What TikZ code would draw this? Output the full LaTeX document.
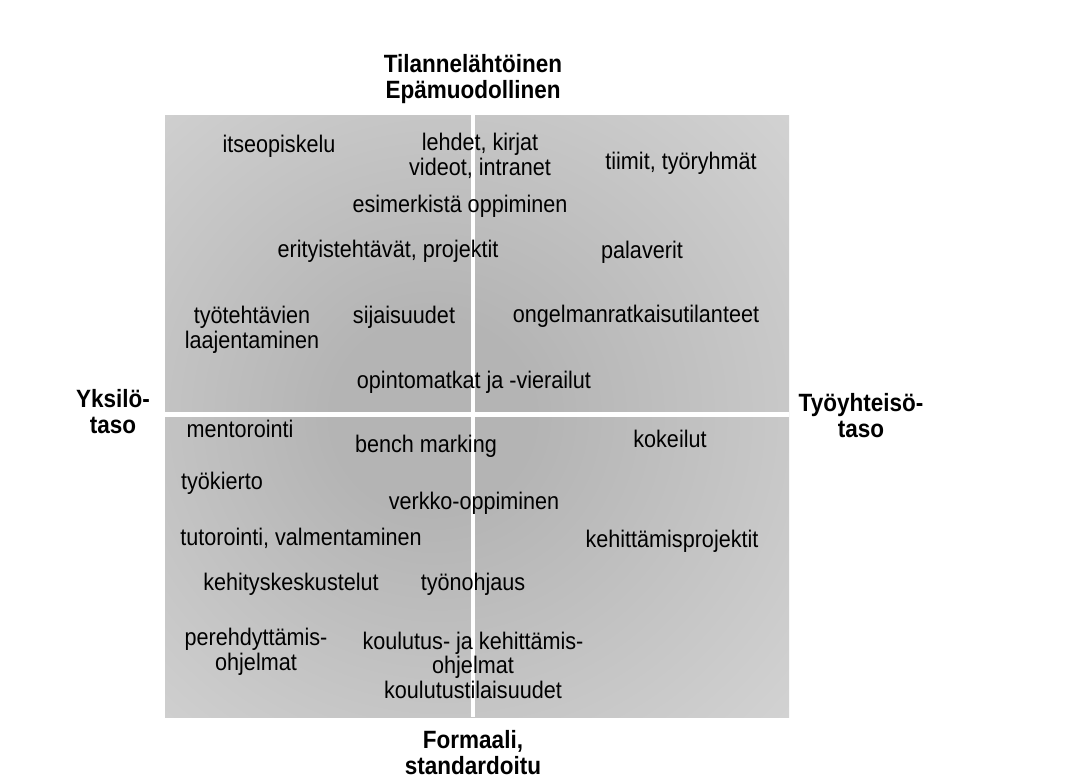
\documentclass[tikz,border=0pt]{standalone}
\usepackage{fontspec}
\setmainfont{Liberation Sans}[FakeStretch=0.9]
\definecolor{panelin}{RGB}{180,180,180}
\definecolor{panelout}{RGB}{226,226,226}
\pgfdeclareradialshading{panelshade}{\pgfpoint{-4bp}{0bp}}{%
  color(0bp)=(panelin); color(8bp)=(panelin); color(52bp)=(panelout); color(75bp)=(panelout)}
\tikzset{
  item/.style={anchor=base, align=center, inner sep=0pt, font=\fontsize{24}{24.5}\selectfont},
  axislabel/.style={anchor=base, align=center, inner sep=0pt, font=\fontsize{25}{25.5}\selectfont\bfseries},
  divider/.style={draw=white, line width=5pt}
}
\begin{document}
\begin{tikzpicture}[x=1pt, y=-1pt]
  \useasboundingbox (0,0) rectangle (1079,782);
  \fill[white] (0,0) rectangle (1079,782);

  % shaded panel
  \coordinate (tl) at (165,115);
  \coordinate (br) at (789,717);
  \shade[shading=panelshade] (tl) rectangle (br);

  % quadrant dividers
  \coordinate (vtop) at (473,115);
  \coordinate (vbot) at (473,717);
  \coordinate (hleft) at (165,414);
  \coordinate (hright) at (789,414);
  \draw[divider, line width=4pt] (vtop) -- (vbot);
  \draw[divider] (hleft) -- (hright);

  % axis labels (multi-line nodes sit on the baseline of their last line)
  \node[axislabel] (top) at (473,98) {Tilannelähtöinen\\Epämuodollinen};
  \node[axislabel] (bottom) at (473,774) {Formaali,\\standardoitu};
  \node[axislabel] (left) at (113,433) {Yksilö-\\taso};
  \node[axislabel] (right) at (861,437) {Työyhteisö-\\taso};

  % upper half
  \node[item] (n1) at (279,152) {itseopiskelu};
  \node[item] (n2) at (480,175) {lehdet, kirjat\\videot, intranet};
  \node[item] (n3) at (681,169) {tiimit, työryhmät};
  \node[item] (n4) at (460,212) {esimerkistä oppiminen};
  \node[item] (n5) at (388,257) {erityistehtävät, projektit};
  \node[item] (n6) at (642,258) {palaverit};
  \node[item] (n7) at (252,348) {työtehtävien\\laajentaminen};
  \node[item] (n8) at (404,323) {sijaisuudet};
  \node[item] (n9) at (636,322) {ongelmanratkaisutilanteet};
  \node[item] (n10) at (474,388) {opintomatkat ja -vierailut};

  % lower half
  \node[item] (n11) at (240,437) {mentorointi};
  \node[item] (n12) at (426,452) {bench marking};
  \node[item] (n13) at (670,447) {kokeilut};
  \node[item] (n14) at (222,489) {työkierto};
  \node[item] (n15) at (474,509) {verkko-oppiminen};
  \node[item] (n16) at (301,545) {tutorointi, valmentaminen};
  \node[item] (n17) at (672,547) {kehittämisprojektit};
  \node[item] (n18) at (291,590) {kehityskeskustelut};
  \node[item] (n19) at (473,590) {työnohjaus};
  \node[item] (n20) at (256,670) {perehdyttämis-\\ohjelmat};
  \node[item] (n21) at (473,698) {koulutus- ja kehittämis-\\ohjelmat\\koulutustilaisuudet};
\end{tikzpicture}
\end{document}
